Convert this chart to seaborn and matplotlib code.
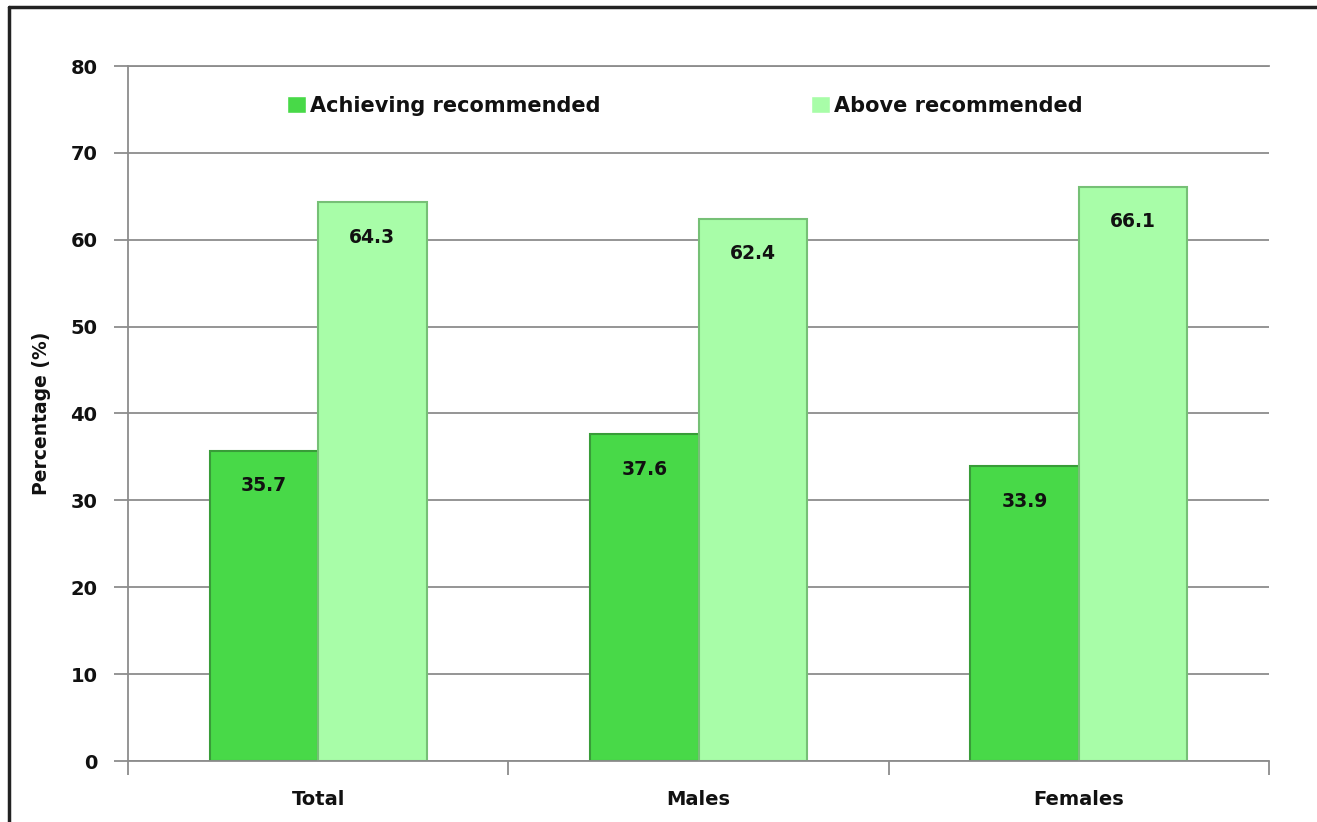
import matplotlib.pyplot as plt
import matplotlib.lines as mlines
import pandas as pd
import seaborn as sns

# Data
groups = ["Total", "Males", "Females"]
series = ["Achieving recommended", "Above recommended"]
achieving = [35.7, 37.6, 33.9]
above = [64.3, 62.4, 66.1]

colors = ["#48d948", "#a8fda8"]
edges = ["#389c38", "#76c076"]

if __name__ == "__main__":
    sns.set_theme(style="white")
    plt.rcParams["font.family"] = ["DejaVu Sans"]

    df = pd.DataFrame({
        "group": groups * 2,
        "series": [series[0]] * 3 + [series[1]] * 3,
        "value": achieving + above,
    })

    fig = plt.figure(figsize=(13.17, 8.22), dpi=100)
    ax = fig.add_axes([128 / 1317, 1 - 761 / 822, (1269 - 128) / 1317, (761 - 66) / 822])

    sns.barplot(data=df, x="group", y="value", hue="series", palette=colors,
                width=0.57, gap=0, ax=ax, errorbar=None, saturation=1)

    # bar edges and value labels
    for i, cont in enumerate(ax.containers):
        for bar in cont:
            bar.set_edgecolor(edges[i])
            bar.set_linewidth(1.5)
        ax.bar_label(cont, fmt="%.1f", padding=-32, fontsize=13.5,
                     fontweight="bold", color="#111111")

    ax.set_ylim(0, 80)
    ax.set_xlim(-0.5, 2.5)
    ax.set_yticks(range(0, 81, 10))
    ax.yaxis.grid(True, color="#8c8c8c", linewidth=1.3)
    ax.set_axisbelow(True)

    ax.spines["right"].set_visible(False)
    for s in ["left", "bottom", "top"]:
        ax.spines[s].set_color("#8c8c8c")
        ax.spines[s].set_linewidth(1.3)

    # minor ticks at category boundaries on x
    ax.set_xticks([-0.5, 0.5, 1.5, 2.5], minor=True)
    ax.tick_params(axis="x", which="minor", length=10, width=1.3,
                   color="#8c8c8c", direction="out", bottom=True)
    ax.tick_params(axis="x", which="major", length=0, pad=21)
    ax.tick_params(axis="y", length=10, width=1.3, color="#8c8c8c",
                   direction="out", left=True, pad=12)

    for lab in ax.get_xticklabels() + ax.get_yticklabels():
        lab.set_fontweight("bold")
        lab.set_fontsize(14)
        lab.set_color("#111111")

    ax.set_xlabel("")
    ax.set_ylabel("Percentage (%)", fontsize=13.5, fontweight="bold",
                  color="#111111", labelpad=14)

    leg = ax.legend(loc="upper center", bbox_to_anchor=(0.488, 0.984), ncol=2,
                    frameon=False, fontsize=15, handlelength=0.9,
                    handleheight=0.9, handletextpad=0.2, columnspacing=10.1)
    for t in leg.get_texts():
        t.set_fontweight("bold")
        t.set_color("#111111")

    # outer chart frame (partly cut off)
    fig.add_artist(mlines.Line2D([9 / 1317, 9 / 1317], [0, 1 - 7 / 822],
                                 color="#222222", linewidth=2.5))
    fig.add_artist(mlines.Line2D([9 / 1317, 1], [1 - 7 / 822, 1 - 7 / 822],
                                 color="#222222", linewidth=2.5))

    fig.savefig("out.png", dpi=100)
